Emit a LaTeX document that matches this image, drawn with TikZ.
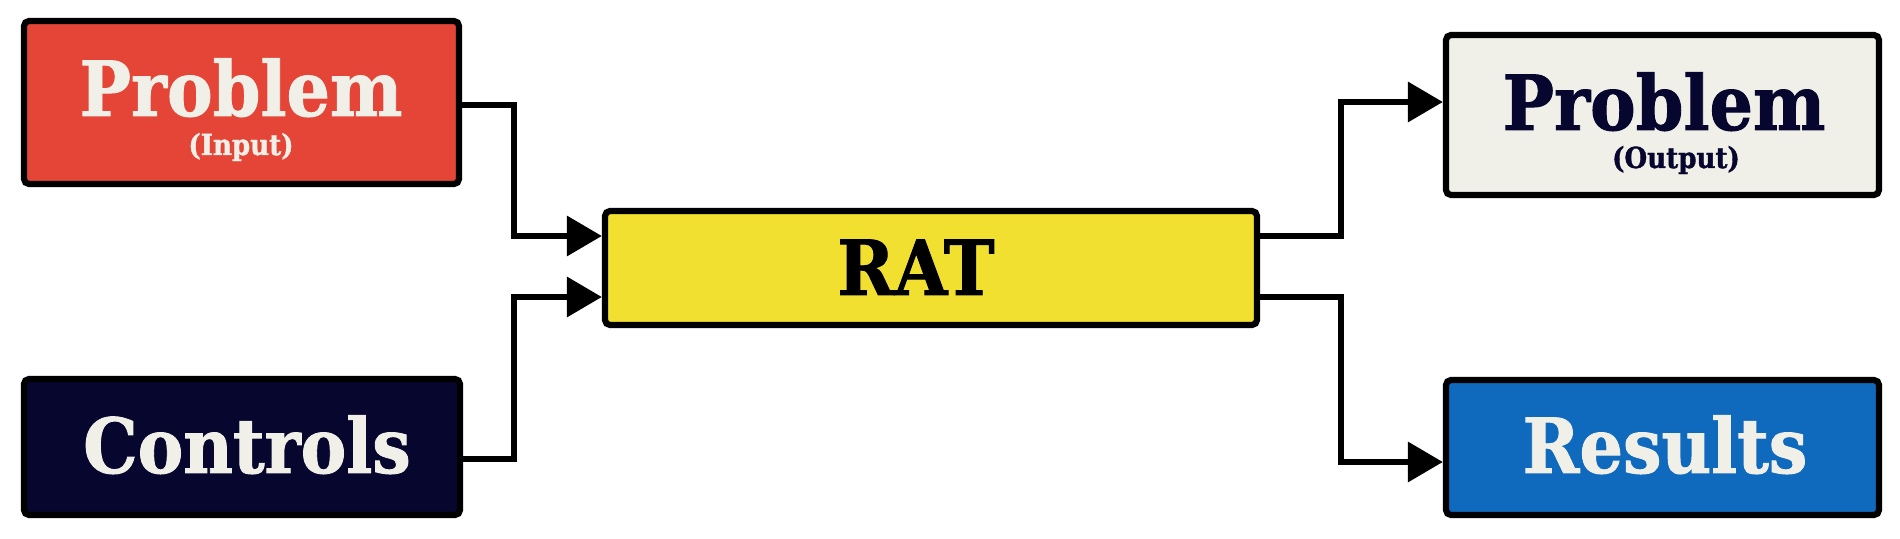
\documentclass[tikz,border=0pt]{standalone}
\usepackage{fontspec}
\setmainfont{DejaVu Serif}
\newfontfamily\slab[FakeStretch=0.9,FakeBold=1.2]{DejaVu Serif}
\usetikzlibrary{arrows.meta}
\definecolor{cRed}{HTML}{E44537}
\definecolor{cCream}{HTML}{F0F0E8}
\definecolor{cNavy}{HTML}{06062F}
\definecolor{cYellow}{HTML}{F2E030}
\definecolor{cBlue}{HTML}{0F6ABD}
\begin{document}
\begin{tikzpicture}[x=0.5pt,y=-0.5pt,
  box/.style={draw=black,line width=3.1pt,rounded corners=2.5pt,inner sep=0pt},
  big/.style={font=\slab\bfseries\fontsize{38}{40}\selectfont,anchor=base,inner sep=0pt},
  small/.style={font=\slab\bfseries\fontsize{14.5}{16}\selectfont,anchor=base,inner sep=0pt},
  conn/.style={draw=black,line width=3.3pt,-{Triangle[length=17.5pt,width=19.5pt]}}]
\useasboundingbox (0,0) rectangle (1900,539);
% boxes
\node[box,fill=cRed,minimum width=217.5pt,minimum height=81.5pt] (inp) at (241.5,102.5) {};
\node[box,fill=cNavy,minimum width=218pt,minimum height=68pt] (ctrl) at (242,447) {};
\node[box,fill=cYellow,minimum width=326pt,minimum height=57pt] (rat) at (931,268) {};
\node[box,fill=cCream,minimum width=216.5pt,minimum height=80pt] (outp) at (1662.5,115) {};
\node[box,fill=cBlue,minimum width=216.5pt,minimum height=67.5pt] (res) at (1662.5,447.5) {};
% texts
\node[big,text=cCream] (inpT) at (241,116) {Problem};
\node[small,text=cCream] (inpS) at (241,155) {(Input)};
\node[big,text=cCream] (ctrlT) at (247,473) {Controls};
\node[big,text=black] (ratT) at (916,295) {RAT};
\node[big,text=cNavy] (outT) at (1664,130) {Problem};
\node[small,text=cNavy] (outS) at (1676,168) {(Output)};
\node[big,text=cCream] (resT) at (1665,473) {Results};
% connector bends
\coordinate (lx) at (514,0);
\coordinate (rx) at (1341,0);
\coordinate (a1) at ([shift={(0,2.5)}]inp.east);
\coordinate (a2) at ([shift={(0,12)}]ctrl.east);
\coordinate (r1) at ([shift={(0,-32)}]rat.west);
\coordinate (r2) at ([shift={(0,29)}]rat.west);
\coordinate (e1) at ([shift={(0,-32)}]rat.east);
\coordinate (e2) at ([shift={(0,29)}]rat.east);
\coordinate (o1) at ([shift={(0,-13)}]outp.west);
\coordinate (o2) at ([shift={(0,14.5)}]res.west);
\draw[conn] (a1) -- (a1 -| lx) |- (r1);
\draw[conn] (a2) -- (a2 -| lx) |- (r2);
\draw[conn] (e1) -- (e1 -| rx) |- (o1);
\draw[conn] (e2) -- (e2 -| rx) |- (o2);
\end{tikzpicture}
\end{document}
